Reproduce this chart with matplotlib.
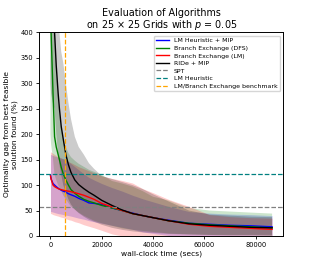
import matplotlib
matplotlib.use("Agg")
import matplotlib.pyplot as plt

# time grid (secs)
t = [0, 250, 1000, 1600, 2250, 3000, 3500, 4200, 5000, 6000, 7000, 8000, 9500,
     11000, 13000, 15000, 17000, 20000, 24000, 28000, 32000, 36000, 40000,
     46000, 54000, 62000, 70000, 78000, 86400]

# LM Heuristic + MIP
blue_mean = [120, 112, 103, 100, 97, 94, 92, 90, 88, 86, 83, 81, 78, 74, 70, 65,
             64, 62, 55, 50, 45, 40, 36, 31, 25, 23, 21, 20, 18]
blue_up = [160, 160, 158, 157, 156, 155, 154, 153, 152, 150, 146, 142, 136, 130,
           122, 115, 110, 103, 95, 88, 80, 73, 67, 58, 48, 45, 43, 42, 40]
blue_lo = [48, 48, 47, 46, 45, 44, 43.5, 43, 42, 41, 40, 39, 37, 35, 33, 30, 28,
           25, 21, 17, 13, 8, 5, 1, 0, 0, 0, 0, 0]

# Branch Exchange (DFS)
green_mean = [1500, 400, 280, 195, 175, 160, 150, 135, 122, 110, 100, 91, 84,
              78, 72, 68, 65, 60, 55, 50, 44, 40, 36, 30, 25, 22, 20, 18, 16]
green_up = [3000, 1500, 600, 420, 330, 270, 240, 210, 190, 175, 163, 155, 148,
            142, 136, 130, 126, 120, 108, 103, 97, 88, 77, 70, 55, 50, 48, 46, 44]
green_lo = [200, 180, 150, 120, 110, 100, 95, 88, 80, 72, 65, 58, 52, 46, 40, 35,
            30, 25, 20, 15, 12, 10, 8, 5, 3, 2, 1, 1, 0]

# Branch Exchange (LM)
red_mean = [118, 112, 100, 97, 95, 93, 92, 91, 90, 89, 88, 87, 85, 83, 80, 76,
            72, 64, 57, 50, 44, 40, 36, 30, 23, 19, 17, 15, 13]
red_up = [165, 165, 162, 160, 158, 156, 155, 153, 151, 148, 146, 144, 140, 136,
          132, 128, 124, 118, 113, 109, 104, 93, 85, 72, 58, 42, 38, 36, 35]
red_lo = [44, 44, 42, 41, 40, 39, 38, 37, 36, 34, 32, 31, 28, 26, 22, 19, 16, 11,
          4, 0, 0, 0, 0, 0, 0, 0, 0, 0, 0]

# RIDe + MIP
black_mean = [3000, 2000, 700, 400, 335, 280, 250, 215, 190, 160, 140, 125, 110,
              101, 93, 86, 80, 70, 60, 51, 44, 40, 36, 30, 24, 21, 19, 17, 16]
black_up = [3000, 2500, 1500, 1000, 700, 500, 400, 362, 340, 300, 262, 230, 195,
            175, 160, 143, 132, 118, 112, 106, 100, 92, 82, 68, 50, 42, 40, 38, 37]
black_lo = [300, 280, 260, 250, 200, 160, 140, 120, 100, 85, 72, 62, 52, 45, 38,
            32, 28, 22, 16, 12, 9, 7, 6, 4, 3, 2, 2, 2, 2]

spt_level = 56
lm_heuristic_level = 121
benchmark_time = 5800

title = "Evaluation of Algorithms\non 25 \u00d7 25 Grids with $p$ = 0.05"
xlabel = "wall-clock time (secs)"
ylabel = "Optimality gap from best feasible\nsolution found (%)"

fig = plt.figure(figsize=(3.15, 2.7), dpi=100)
ax = fig.add_axes([0.125, 0.126, 0.774, 0.754])

series = [
    ("LM Heuristic + MIP", "blue", blue_mean, blue_lo, blue_up),
    ("Branch Exchange (DFS)", "green", green_mean, green_lo, green_up),
    ("Branch Exchange (LM)", "red", red_mean, red_lo, red_up),
    ("RIDe + MIP", "black", black_mean, black_lo, black_up),
]
for label, c, m, lo, up in series:
    ax.fill_between(t, lo, up, color=c, alpha=0.2, linewidth=0)
for label, c, m, lo, up in series:
    ax.plot(t, m, color=c, lw=1.0, label=label)

ax.axhline(spt_level, color="gray", ls="--", lw=0.9, label="SPT")
ax.axhline(lm_heuristic_level, color="teal", ls="--", lw=0.9, label="LM Heuristic")
ax.axvline(benchmark_time, color="orange", ls="--", lw=0.9,
           label="LM/Branch Exchange benchmark")

ax.set_ylim(0, 400)
ax.set_xlim(-4320, 90720)
ax.set_xticks([0, 20000, 40000, 60000, 80000])
ax.set_yticks([0, 50, 100, 150, 200, 250, 300, 350, 400])
ax.tick_params(labelsize=4.8, width=0.6, length=2.5, pad=2)
for s in ax.spines.values():
    s.set_linewidth(0.7)
ax.set_title(title, fontsize=6.9, pad=0.3, linespacing=1.0)
ax.set_xlabel(xlabel, fontsize=5.4, labelpad=1.5)
ax.set_ylabel(ylabel, fontsize=5.4, labelpad=2)
ax.legend(loc="upper right", fontsize=4.5, labelspacing=0.35, handlelength=2.0,
          borderpad=0.4, framealpha=0.8, edgecolor="#cccccc", fancybox=True)

fig.savefig("out.png", dpi=100)
